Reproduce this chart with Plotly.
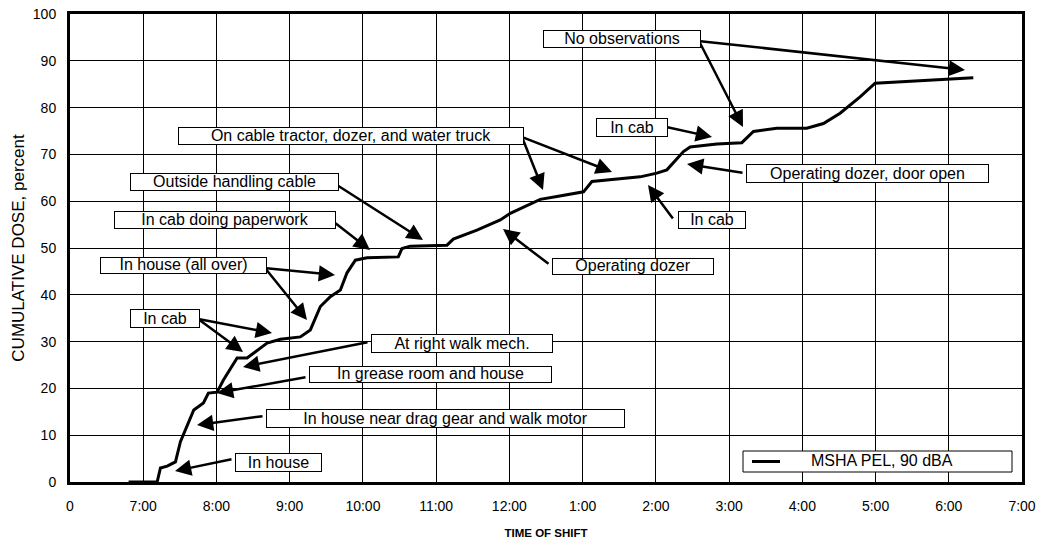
import plotly.graph_objects as go

# ---- data (x = position on the shift axis in hours, y = cumulative dose %) ----
hours = [0.80, 1.19, 1.235, 1.327, 1.44, 1.508, 1.69, 1.822, 1.89, 2.009, 2.095, 2.231,
         2.282, 2.418, 2.691, 2.873, 3.146, 3.282, 3.419, 3.555, 3.692, 3.783, 3.897,
         4.056, 4.279, 4.483, 4.534, 4.647, 5.148, 5.234, 5.557, 5.876, 6.012, 6.421,
         6.649, 7.012, 7.127, 7.468, 7.786, 8.014, 8.151, 8.377, 8.469, 8.833, 9.174,
         9.333, 9.652, 10.061, 10.288, 10.516, 10.789, 10.994, 11.335, 11.789, 12.017, 12.335]
dose = [0, 0, 3, 3.4, 4.3, 8.6, 15.4, 16.9, 19, 19.2, 21.8, 25.4,
        26.5, 26.5, 29.7, 30.5, 31, 32.5, 37.5, 39.6, 41, 44.7, 47.4,
        47.9, 48.0, 48.1, 49.9, 50.4, 50.6, 51.9, 53.8, 56, 57.4, 60.4,
        61, 62, 64.2, 64.7, 65.2, 66, 66.7, 70.6, 71.6, 72.2, 72.5,
        74.9, 75.6, 75.6, 76.6, 78.8, 82.3, 85.2, 85.5, 85.9, 86.2, 86.4]

x_tickvals = list(range(14))
x_ticktext = ["0", "7:00", "8:00", "9:00", "10:00", "11:00", "12:00", "1:00",
              "2:00", "3:00", "4:00", "5:00", "6:00", "7:00"]
y_tickvals = list(range(0, 101, 10))

series_name = "MSHA PEL, 90 dBA"

# ---- annotation boxes (text, left, right, top, bottom) in window pixels ----
boxes = [
    ("No observations", 541, 699, 30, 48),
    ("In cab", 594, 666, 118, 137),
    ("Operating dozer, door open", 744, 987, 164, 183),
    ("In cab", 676, 744, 211, 229),
    ("On cable tractor, dozer, and water truck", 176, 522, 127, 145),
    ("Outside handling cable", 128, 337, 173, 191),
    ("In cab doing paperwork", 112, 334, 211, 229),
    ("In house (all over)", 98, 265, 257, 274),
    ("In cab", 128, 198, 309, 328),
    ("At right walk mech.", 369, 551, 334, 353),
    ("In grease room and house", 307, 550, 366, 383),
    ("In house near drag gear and walk motor", 264, 623, 409, 428),
    ("In house", 233, 320, 453, 472),
    ("Operating dozer", 550, 712, 258, 275),
]
# arrows (tail x, tail y, head x, head y) in window pixels
arrows = [
    (699, 41, 743, 127), (699, 41, 965, 70),
    (666, 127, 712, 137),
    (744, 173, 687, 164),
    (674, 220, 648, 185),
    (522, 137, 543, 190), (522, 137, 612, 172),
    (337, 185, 423, 240),
    (334, 222, 370, 250),
    (265, 268, 335, 275), (265, 268, 307, 320),
    (198, 319, 272, 333), (198, 319, 243, 352),
    (369, 342, 243, 367),
    (307, 377, 217, 393),
    (264, 416, 197, 425),
    (233, 459, 175, 471),
    (550, 265, 503, 229),
]
# legend box (left, right, top, bottom), line sample (x0, x1) and text left, window pixels
legend_box = (743, 1012, 451, 472)
legend_line = (752, 780)
legend_text_x = 809

W, H = 1047, 548
PL, PR, PT, PB = 70, 1022, 14, 482   # plot area in window pixels
ML, MR, MT, MB = PL, W - PR, PT, H - PB
XR = (0, 13)
YR = (0, 100)


def px2x(p):
    return XR[0] + (p - PL) / (PR - PL) * (XR[1] - XR[0])


def py2y(p):
    return YR[0] + (PB - p) / (PB - PT) * (YR[1] - YR[0])


FONT = "Arial, Liberation Sans, sans-serif"

fig = go.Figure()
fig.add_trace(go.Scatter(x=hours, y=dose, mode="lines", name=series_name,
                         line=dict(color="black", width=3), showlegend=False))

annots = []
for tx, ty, hx, hy in arrows:
    annots.append(dict(x=px2x(hx), y=py2y(hy), ax=px2x(tx), ay=py2y(ty),
                       xref="x", yref="y", axref="x", ayref="y", text="",
                       showarrow=True, arrowhead=2, arrowsize=1.3, arrowwidth=2.5,
                       arrowcolor="black", standoff=0, startstandoff=0))
for text, x0, x1, y0, y1 in boxes:
    annots.append(dict(x=px2x((x0 + x1) / 2 + 2), y=py2y((y0 + y1) / 2), xref="x", yref="y",
                       text=text, showarrow=False, xanchor="center", yanchor="middle",
                       width=x1 - x0 - 2, height=y1 - y0 - 2, align="center", valign="bottom",
                       bgcolor="white", bordercolor="black", borderwidth=1, borderpad=0,
                       font=dict(family=FONT, size=16, color="black")))

# legend: framed box with a line sample and the series name
lx0, lx1, ly0, ly1 = legend_box
lyc = py2y((ly0 + ly1) / 2)
annots.append(dict(x=px2x(legend_text_x), y=lyc, xref="x", yref="y", yshift=1,
                   text=series_name, showarrow=False, xanchor="left", yanchor="middle",
                   font=dict(family=FONT, size=16, color="black")))
shapes = [
    dict(type="rect", xref="x", yref="y", x0=px2x(lx0), x1=px2x(lx1),
         y0=py2y(ly0), y1=py2y(ly1), fillcolor="white",
         line=dict(color="black", width=1), layer="above"),
    dict(type="line", xref="x", yref="y", x0=px2x(legend_line[0]), x1=px2x(legend_line[1]),
         y0=lyc, y1=lyc, line=dict(color="black", width=3), layer="above"),
]

fig.update_layout(
    width=W, height=H,
    margin=dict(l=ML, r=MR, t=MT, b=MB, autoexpand=False),
    paper_bgcolor="white", plot_bgcolor="white",
    font=dict(family=FONT, size=14, color="black"),
    showlegend=False,
    annotations=annots,
    shapes=shapes,
)
fig.update_xaxes(range=list(XR), tickvals=x_tickvals, ticktext=x_ticktext, automargin=False,
                 showgrid=True, gridcolor="black", gridwidth=1,
                 showline=True, linecolor="black", linewidth=3, mirror=True,
                 ticks="outside", ticklen=9, tickcolor="rgba(0,0,0,0)",
                 zeroline=False, tickfont=dict(size=14), ticklabeloverflow="allow",
                 title=dict(text="<b>TIME OF SHIFT</b>", font=dict(size=11.5), standoff=17))
fig.update_yaxes(range=list(YR), tickvals=y_tickvals, automargin=False,
                 showgrid=True, gridcolor="black", gridwidth=1,
                 showline=True, linecolor="black", linewidth=3, mirror=True,
                 ticks="outside", ticklen=8, tickcolor="rgba(0,0,0,0)",
                 zeroline=False, tickfont=dict(size=14), ticklabeloverflow="allow",
                 title=dict(text="CUMULATIVE DOSE, percent", font=dict(size=17), standoff=4))

fig.write_html("out.html", config={"displayModeBar": False},
               post_script="document.body.style.margin='0';document.body.style.overflow='hidden';")
